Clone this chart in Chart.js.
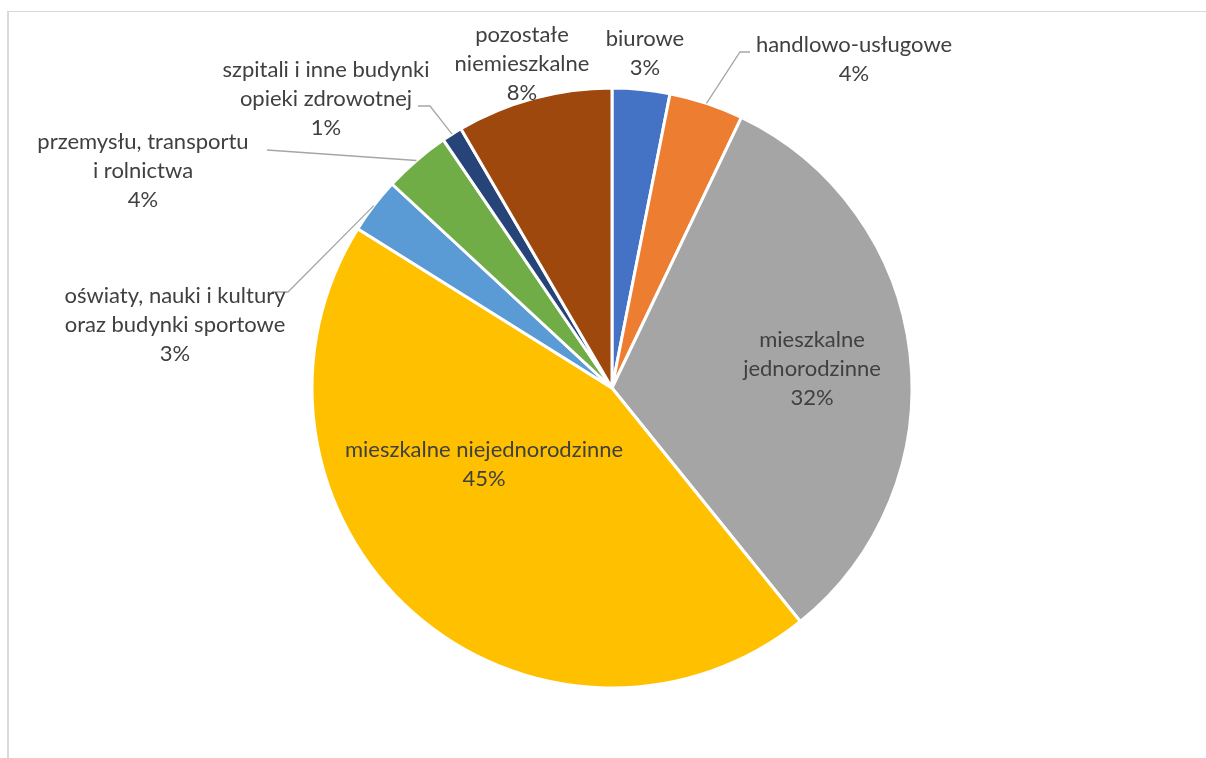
<!DOCTYPE html>
<html>
<head>
<meta charset="utf-8">
<script src="https://cdn.jsdelivr.net/npm/chart.js@4.4.0/dist/chart.umd.min.js"></script>
<style>
    html, body { margin: 0; padding: 0; background: #fff; overflow: hidden; }
    #frame {
        position: absolute; left: 7px; top: 11px; width: 1400px; height: 900px;
        border-left: 2px solid #d9d9d9; border-top: 1px solid #d9d9d9;
    }
    #wrap { position: absolute; left: 0; top: 0; width: 1206px; height: 758px; }
</style>
</head>
<body>
<div id="frame"></div>
<div id="wrap"><canvas id="pieChart"></canvas></div>
<script>
// Data (share of each building type)
const categories = [
    'biurowe',
    'handlowo-usługowe',
    'mieszkalne jednorodzinne',
    'mieszkalne niejednorodzinne',
    'oświaty, nauki i kultury oraz budynki sportowe',
    'przemysłu, transportu i rolnictwa',
    'szpitali i inne budynki opieki zdrowotnej',
    'pozostałe niemieszkalne'
];
const shares = [3.1, 4.0, 32.1, 44.7, 3.0, 3.6, 1.1, 8.4];
const colors = ['#4472C4', '#ED7D31', '#A5A5A5', '#FFC000', '#5B9BD5', '#70AD47', '#264478', '#9E480E'];

// How each label's name wraps
const labelLines = [
    ['biurowe'],
    ['handlowo-usługowe'],
    ['mieszkalne', 'jednorodzinne'],
    ['mieszkalne niejednorodzinne'],
    ['oświaty, nauki i kultury', 'oraz budynki sportowe'],
    ['przemysłu, transportu', 'i rolnictwa'],
    ['szpitali i inne budynki', 'opieki zdrowotnej'],
    ['pozostałe', 'niemieszkalne']
];

// Label placement relative to the pie centre: [x of text centre, y of first line]
const labelOffsets = [
    [33, -349], [242, -343], [200, -48], [-128, 62],
    [-437, -92], [-469, -246], [-286, -318], [-90, -353]
];
// Leader line bends (relative to pie centre); null = no leader
const leaderPaths = [
    null,
    [[128, -336], [138, -336]],
    null,
    null,
    [[-324, -96], [-340, -96]],
    [[-345, -238]],
    [[-182, -282], [-194, -282]],
    null
];

const LINE_HEIGHT = 29;

// Draws data labels and leader lines
const pieLabels = {
    id: 'pieLabels',
    afterDatasetsDraw(chart) {
        const ctx = chart.ctx;
        const meta = chart.getDatasetMeta(0);
        const total = shares.reduce((a, b) => a + b, 0);

        ctx.save();
        meta.data.forEach((arc, i) => {
            const p = arc.getProps(['x', 'y', 'startAngle', 'endAngle', 'outerRadius'], true);
            const cx = p.x, cy = p.y;

            // leader line
            if (leaderPaths[i]) {
                const mid = (p.startAngle + p.endAngle) / 2;
                ctx.beginPath();
                ctx.moveTo(cx + Math.cos(mid) * p.outerRadius, cy + Math.sin(mid) * p.outerRadius);
                leaderPaths[i].forEach(pt => ctx.lineTo(cx + pt[0], cy + pt[1]));
                ctx.strokeStyle = '#a6a6a6';
                ctx.lineWidth = 1.3;
                ctx.stroke();
            }

            // text
            const lines = labelLines[i].concat([Math.round(shares[i] / total * 100) + '%']);
            ctx.fillStyle = '#404040';
            ctx.font = '22px Lato, "Liberation Sans", sans-serif';
            ctx.textAlign = 'center';
            ctx.textBaseline = 'middle';
            lines.forEach((t, k) => {
                ctx.fillText(t, cx + labelOffsets[i][0], cy + labelOffsets[i][1] + k * LINE_HEIGHT);
            });
        });
        ctx.restore();
    }
};

const ctx = document.getElementById('pieChart').getContext('2d');
const pieChart = new Chart(ctx, {
    type: 'pie',
    data: {
        labels: categories,
        datasets: [{
            data: shares,
            backgroundColor: colors,
            borderColor: '#ffffff',
            borderWidth: 3
        }]
    },
    options: {
        responsive: true,
        maintainAspectRatio: false,
        animation: false,
        layout: {
            padding: { left: 310.5, right: 292.5, top: 86.5, bottom: 68.5 }
        },
        plugins: {
            legend: { display: false },
            tooltip: { enabled: false }
        }
    },
    plugins: [pieLabels]
});
</script>
</body>
</html>
